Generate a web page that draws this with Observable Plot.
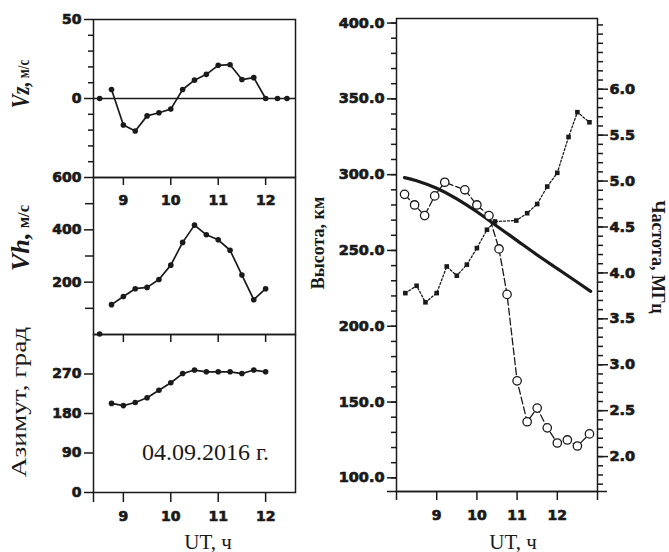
<!DOCTYPE html>
<html><head><meta charset="utf-8">
<script src="https://cdn.jsdelivr.net/npm/d3@7"></script>
<script src="https://cdn.jsdelivr.net/npm/@observablehq/plot@0.6"></script>
<style>
body{margin:0;background:#fff;}
#chart{position:relative;width:669px;height:552px;overflow:hidden;background:#fff;}
#chart svg{position:absolute;left:0;top:0;}
#chart svg g[aria-label$="tick label"] text{font-family:"DejaVu Sans",sans-serif;font-weight:700;stroke:#1a1a1a;stroke-width:0.7px;paint-order:normal;}
.lbl{position:absolute;white-space:nowrap;color:#1a1a1a;font-family:"Liberation Serif","DejaVu Serif",serif;line-height:1;}
</style></head><body><div id="chart"></div>
<script>
// ---- data ----
const hourTicks = [9, 10, 11, 12];
const vzTicks = [0, 50];
const vzMinorTicks = [-40, -30, -20, -10, 10, 20, 30, 40];
const vhTicks = [200, 400, 600];
const vhMinorTicks = [100, 300, 500];
const azTicks = [0, 90, 180, 270];
const heightTicks = [100, 150, 200, 250, 300, 350, 400];
const heightMinorTicks = d3.range(100, 401, 10);
const freqTicks = [2.0, 2.5, 3.0, 3.5, 4.0, 4.5, 5.0, 5.5, 6.0];
const freqMinorTicks = d3.range(17, 68).map(d => d / 10);
const rightHourTicks = [8, 9, 10, 11, 12, 13];

const vzTime = [8.5, 8.75, 9.0, 9.25, 9.5, 9.75, 10.0, 10.25, 10.5, 10.75, 11.0, 11.25, 11.5, 11.75, 12.0, 12.25, 12.45];
const vzValue = [0, 5.7, -16.8, -20.6, -11, -9, -6.7, 5.7, 11.6, 15.3, 21, 21.4, 12, 13.2, 0, 0, 0];

const vhTime = [8.5, 8.75, 9.0, 9.25, 9.5, 9.75, 10.0, 10.25, 10.5, 10.75, 11.0, 11.25, 11.5, 11.75, 12.0];
const vhValue = [2, 114, 145, 175, 180, 210, 265, 352, 418, 381, 362, 322, 227, 133, 175];

const azTime = [8.75, 9.0, 9.25, 9.5, 9.75, 10.0, 10.25, 10.5, 10.75, 11.0, 11.25, 11.5, 11.75, 12.0];
const azValue = [203, 198, 205, 216, 233, 250, 271, 279, 275, 275, 275, 271, 279, 275];

const modelTime = [8.2, 8.5, 9.0, 9.5, 10.0, 10.5, 11.0, 11.5, 12.0, 12.5, 12.83];
const modelHeight = [298, 296, 291, 284, 275.5, 266, 256.5, 247, 238, 229, 223];

const hTime = [8.2, 8.45, 8.7, 8.95, 9.2, 9.7, 10.0, 10.3, 10.55, 10.75, 11.0, 11.25, 11.5, 11.75, 12.0, 12.25, 12.5, 12.8];
const hValue = [287, 280, 273, 286, 295, 290, 280, 273, 251, 221, 164, 137, 146, 133, 123, 125, 121, 129];

const fTime = [8.22, 8.5, 8.72, 9.0, 9.25, 9.5, 9.75, 10.0, 10.25, 10.45, 10.98, 11.25, 11.5, 11.75, 12.0, 12.28, 12.5, 12.8];
const fValue = [3.78, 3.86, 3.68, 3.78, 4.07, 3.97, 4.09, 4.27, 4.47, 4.56, 4.57, 4.65, 4.75, 4.94, 5.09, 5.48, 5.75, 5.64];

// ---- build ----
const zip = (xs, ys) => xs.map((x, i) => ({x, y: ys[i]}));
const vz = zip(vzTime, vzValue);
const vh = zip(vhTime, vhValue);
const az = zip(azTime, azValue);
const model = zip(modelTime, modelHeight);
const hgt = zip(hTime, hValue);
const frq = zip(fTime, fValue);

const W = 669, H = 552, ink = "#1a1a1a";
const tickFont = {fontFamily: "DejaVu Sans", fontWeight: "bold", fontSize: 14, fill: ink};
const tickFontR = {...tickFont, fontSize: 14.5};
const base = {width: W, height: H, style: {background: "transparent", overflow: "visible", color: ink}};
const leftX = {domain: [8.37, 12.63]};
const leftM = {marginLeft: 93, marginRight: 374};
const rightM = {marginLeft: 396, marginRight: 72, marginTop: 18, marginBottom: 61};
const rightY = {domain: [91, 403]};
const none = () => "";

const chart = document.getElementById("chart");
const add = (svg) => chart.appendChild(svg);

// Vz panel
add(Plot.plot({...base, ...leftM, marginTop: 19, marginBottom: 375,
  x: leftX, y: {domain: [-50, 50]},
  marks: [
    Plot.ruleY([0], {stroke: ink, strokeWidth: 1.4}),
    Plot.axisY(vzMinorTicks, {tickSize: 5, tickFormat: none, strokeWidth: 1.5, label: null}),
    Plot.axisY(vzTicks, {tickSize: 9, tickPadding: 3, strokeWidth: 1.5, label: null, ...tickFont}),
    Plot.axisX(hourTicks, {tickSize: 8, tickPadding: 10, strokeWidth: 1.5, label: null, ...tickFont}),
    Plot.line(vz, {x: "x", y: "y", filter: (d, i) => i > 0 && i < 15, stroke: ink, strokeWidth: 1.7}),
    Plot.dot(vz, {x: "x", y: "y", r: 2.8, fill: ink}),
    Plot.frame({stroke: ink, strokeWidth: 1.5})
  ]}));

// Vh panel
add(Plot.plot({...base, ...leftM, marginTop: 177, marginBottom: 218,
  x: leftX, y: {domain: [0, 600]},
  marks: [
    Plot.axisY(vhMinorTicks, {tickSize: 8, tickFormat: none, strokeWidth: 1.5, label: null}),
    Plot.axisY(vhTicks, {tickSize: 9, tickPadding: 3, strokeWidth: 1.5, label: null, ...tickFont}),
    Plot.axisX(hourTicks, {tickSize: 8, tickFormat: none, strokeWidth: 1.5, label: null}),
    Plot.line(vh, {x: "x", y: "y", filter: (d, i) => i > 0, stroke: ink, strokeWidth: 1.7}),
    Plot.dot(vh, {x: "x", y: "y", r: 2.8, fill: ink}),
    Plot.frame({stroke: ink, strokeWidth: 1.5})
  ]}));

// Azimuth panel
add(Plot.plot({...base, ...leftM, marginTop: 334, marginBottom: 60,
  x: leftX, y: {domain: [0, 360]},
  marks: [
    Plot.axisY(azTicks, {tickSize: 9, tickPadding: 3, strokeWidth: 1.5, label: null, ...tickFont}),
    Plot.axisX(hourTicks, {tickSize: 10, tickPadding: 9, strokeWidth: 1.5, label: null, ...tickFont}),
    Plot.axisX([leftX.domain[0]], {tickSize: 10, tickFormat: none, strokeWidth: 1.5, label: null}),
    Plot.line(az, {x: "x", y: "y", stroke: ink, strokeWidth: 1.7}),
    Plot.dot(az, {x: "x", y: "y", r: 2.8, fill: ink}),
    Plot.text(["04.09.2016 г."], {frameAnchor: "bottom", dx: 11, dy: -40, lineAnchor: "middle",
      fontFamily: "Liberation Serif", fontWeight: "normal", fontSize: 24, fill: ink}),
    Plot.frame({stroke: ink, strokeWidth: 1.5})
  ]}));

// Right panel: height (left axis)
add(Plot.plot({...base, ...rightM,
  x: {domain: [8, 13]}, y: rightY,
  marks: [
    Plot.axisY(heightMinorTicks, {tickSize: 5, tickFormat: none, strokeWidth: 1.5, label: null}),
    Plot.axisY(heightTicks, {tickSize: 9, tickPadding: 3, tickFormat: d3.format(".1f"), strokeWidth: 1.5, label: null, ...tickFontR}),
    Plot.axisX(rightHourTicks, {tickSize: 9, tickPadding: 10, strokeWidth: 1.5, label: null,
      tickFormat: d => (d > 8 && d < 13 ? d : ""), ...tickFont}),
    Plot.ruleY([rightY.domain[0]], {stroke: ink, strokeWidth: 1.5, insetLeft: -9, insetRight: -10}),
    Plot.line(model, {x: "x", y: "y", curve: "natural", stroke: ink, strokeWidth: 3.2}),
    Plot.line(hgt, {x: "x", y: "y", stroke: ink, strokeWidth: 1.3, strokeDasharray: "7,3"}),
    Plot.dot(hgt, {x: "x", y: "y", r: 4.2, fill: "white", stroke: ink, strokeWidth: 1.3}),
    Plot.frame({stroke: ink, strokeWidth: 1.5})
  ]}));

// Right panel: frequency (right axis)
add(Plot.plot({...base, ...rightM,
  x: {domain: [8, 13], axis: null}, y: {domain: [1.62, 6.77], axis: null},
  marks: [
    Plot.axisY(freqMinorTicks, {anchor: "right", tickSize: 5, tickFormat: none, strokeWidth: 1.5, label: null}),
    Plot.axisY(freqTicks, {anchor: "right", tickSize: 10, tickPadding: 2, tickFormat: d3.format(".1f"), strokeWidth: 1.5, label: null, ...tickFontR}),
    Plot.line(frq, {x: "x", y: "y", stroke: ink, strokeWidth: 1.3, strokeDasharray: "2,2"}),
    Plot.dot(frq, {x: "x", y: "y", symbol: "square", r: 2.6, fill: ink})
  ]}));

// ---- axis titles (HTML text) ----
function label(html, x, y, rot, css) {
  const d = document.createElement("div");
  d.className = "lbl";
  d.innerHTML = html;
  d.style.left = x + "px";
  d.style.top = y + "px";
  d.style.transform = `translate(-50%,-50%) rotate(${rot}deg)` + (css && css.scale ? ` scaleX(${css.scale})` : "");
  if (css && css.style) Object.assign(d.style, css.style);
  chart.appendChild(d);
}
label('<span style="font-style:italic;font-weight:bold;font-size:25px">Vz,</span> <span style="font-weight:bold;font-size:16px">м/с</span>', 20, 84, -90, {scale: 0.82});
label('<span style="font-style:italic;font-weight:bold;font-size:25px">Vh,</span> <span style="font-weight:bold;font-size:16px">м/с</span>', 20, 238, -90, {scale: 1.05});
label('Азимут, град', 19, 402, -90, {scale: 1.3, style: {fontSize: "21px"}});
label('Высота, км', 318, 243, -90, {style: {fontSize: "18px", fontWeight: "bold"}});
label('Частота, МГц', 658, 257, 90, {style: {fontSize: "18px", fontWeight: "bold"}});
label('UT, ч', 208, 542, 0, {style: {fontSize: "21px"}});
label('UT, ч', 513, 542, 0, {style: {fontSize: "21px"}});
</script></body></html>
